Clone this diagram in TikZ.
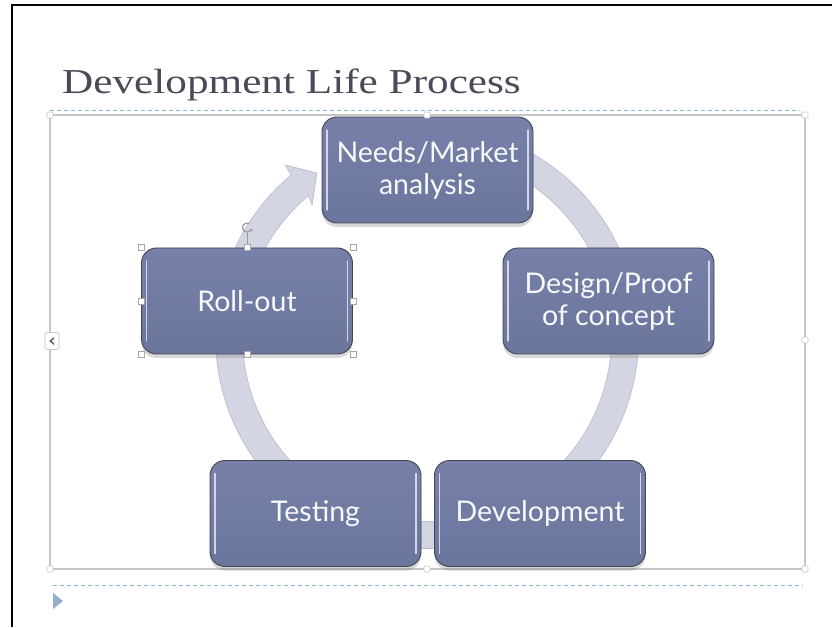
\documentclass[tikz,border=0pt]{standalone}
\usepackage{graphicx}
\usepackage{fontspec}
\setmainfont{Liberation Serif}
\newfontfamily\boxfont{Lato}
\usetikzlibrary{shadows,calc,arrows.meta}
\definecolor{boxtop}{HTML}{7680A8}
\definecolor{boxbot}{HTML}{6B769D}
\definecolor{boxedge}{HTML}{45454F}
\definecolor{ringfill}{HTML}{D3D5E3}
\definecolor{ringedge}{HTML}{B5B9CE}
\definecolor{titlecol}{HTML}{4A4A58}
\definecolor{dashblue}{HTML}{8DB3D8}
\definecolor{framegray}{HTML}{C6C6C6}
\definecolor{tricol}{HTML}{94AECB}
\begin{document}
\begin{tikzpicture}[x=1pt,y=1pt,
  stepbox/.style={rectangle, rounded corners=15pt, minimum width=211pt, minimum height=106pt,
    top color=boxtop, bottom color=boxbot, draw=boxedge, line width=0.9pt, text=white!95!boxtop,
    font=\boxfont\fontsize{28.5}{32}\selectfont, align=center, inner sep=0pt,
    drop shadow={shadow xshift=0pt, shadow yshift=-4pt, opacity=0.3},
    path picture={
      \draw[white, line width=1.2pt, opacity=0.7, line cap=round]
        ([xshift=5pt,yshift=-13pt]path picture bounding box.north west) --
        ([xshift=5pt,yshift=13pt]path picture bounding box.south west);
      \draw[white, line width=1.2pt, opacity=0.7, line cap=round]
        ([xshift=-5pt,yshift=-13pt]path picture bounding box.north east) --
        ([xshift=-5pt,yshift=13pt]path picture bounding box.south east);}},
  handle/.style={rectangle, draw=gray!70, fill=white, line width=0.5pt, minimum size=6pt, inner sep=0pt},
  fhandle/.style={rectangle, rounded corners=1pt, draw=framegray, fill=white, line width=0.6pt, minimum size=6pt, inner sep=0pt},
  dashline/.style={dashblue, line width=1pt, dash pattern=on 4pt off 3pt},
]
\useasboundingbox (0,0) rectangle (832,627);
\fill[white] (0,0) rectangle (832,627);
% page border
\draw[black, line width=2pt] (12,0) -- (12,622) -- (832,622);
% title
\node[anchor=base west, inner sep=0pt, text=titlecol, font=\fontsize{35}{40}\selectfont] (title) at (62,533)
  {\scalebox{1.235}[1]{Development Life Process}};
% placeholder frame
\draw[dashline] (50,516) -- (800,516);
\draw[dashline] (53,42) -- (803,42);
\draw[framegray, line width=1.4pt] (50,58) rectangle (805,512);
% cycle ring
\coordinate (c) at (427,290);
\fill[ringfill, draw=ringedge, line width=0.6pt]
  ($(c)+(100:211.5)$) arc[start angle=100, end angle=-230, radius=211.5]
  -- ($(c)+(129.5:223)$) -- ($(c)+(123.9:197.5)$) -- ($(c)+(131:175)$)
  -- ($(c)+(130:184.5)$) arc[start angle=-230, end angle=100, radius=184.5] -- cycle;
% steps
\node[stepbox] (needs) at (427.5,457) {Needs/Market\\analysis};
\node[stepbox] (design) at (608.5,326) {Design/Proof\\of concept};
\node[stepbox] (devel) at (540,113.5) {Development};
\node[stepbox] (testing) at (315.5,113.5) {Testing};
\node[stepbox] (rollout) at (247,326) {Roll-out};
% frame handles
\node[fhandle] (f1) at (50,512) {};
\node[fhandle] (f2) at (805,512) {};
\node[fhandle] (f3) at (50,58) {};
\node[fhandle] (f4) at (805,58) {};
\node[fhandle] (f5) at (427,512) {};
\node[fhandle] (f6) at (427,58) {};
\node[fhandle] (f7) at (805,287) {};
\node[rectangle, rounded corners=1.5pt, draw=framegray, fill=white, line width=0.6pt,
  minimum width=14pt, minimum height=17pt, inner sep=0pt] (fl) at (52,286) {};
\fill[gray!80!black] ($(fl.center)+(2,4)$) -- ($(fl.center)+(-3,0)$) -- ($(fl.center)+(2,-4)$) -- ($(fl.center)+(2,-2)$) -- ($(fl.center)+(-0.5,0)$) -- ($(fl.center)+(2,2)$) -- cycle;
% selection handles on roll-out
\node[handle] (h1) at (rollout.north west) {};
\node[handle] (h2) at (rollout.north) {};
\node[handle] (h3) at (rollout.north east) {};
\node[handle] (h4) at (rollout.west) {};
\node[handle] (h5) at (rollout.east) {};
\node[handle] (h6) at (rollout.south west) {};
\node[handle] (h7) at (rollout.south) {};
\node[handle] (h8) at (rollout.south east) {};
\coordinate (rot) at ($(rollout.north)+(0,20)$);
\draw[gray!80, line width=0.6pt] (h2) -- ($(rot)+(0,-5)$);
\draw[gray!80, line width=1.2pt, -{Stealth[length=3pt,width=4pt]}] ($(rot)+(60:4.5)$) arc[start angle=60, end angle=350, radius=4.5];
% bullet triangle
\fill[tricol] (53,34) -- (53,18) -- (63,26) -- cycle;
\end{tikzpicture}
\end{document}
